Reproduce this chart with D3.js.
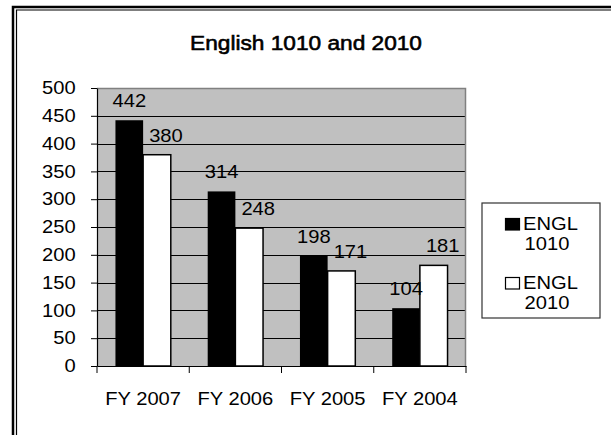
<!DOCTYPE html>
<html>
<head>
<meta charset="utf-8">
<script src="https://cdn.jsdelivr.net/npm/d3@7"></script>
<style>
  html, body { margin: 0; padding: 0; background: #fff; }
  svg { display: block; }
  text { font-family: Arial, "Liberation Sans", sans-serif; fill: #000; }
</style>
</head>
<body>
<svg id="chart"></svg>
<script>
const categories = ["FY 2007", "FY 2006", "FY 2005", "FY 2004"];
const seriesNames = ["ENGL 1010", "ENGL 2010"];
const engl1010 = [442, 314, 198, 104];
const engl2010 = [380, 248, 171, 181];
const yTicks = [0, 50, 100, 150, 200, 250, 300, 350, 400, 450, 500];

const W = 611, H = 435;
const stretch = 1.12; // the picture's text is a bit wide
const margin = { top: 88, right: 145, bottom: 69, left: 97 };
const width = W - margin.left - margin.right;
const height = H - margin.top - margin.bottom;

const svg = d3.select("#chart").attr("width", W).attr("height", H);

// outer double frame
svg.append("path")
  .attr("d", `M13,${H + 5} V7 H${W + 5}`)
  .attr("fill", "none").attr("stroke", "#000").attr("stroke-width", 2.5);
svg.append("path")
  .attr("d", `M16.5,${H + 5} V10 H${W + 5}`)
  .attr("fill", "none").attr("stroke", "#000").attr("stroke-width", 1.2);

svg.append("g")
  .attr("transform", `translate(306,50) scale(1.08,1)`)
  .append("text")
  .attr("text-anchor", "middle")
  .style("font-size", "21px")
  .attr("stroke", "#000").attr("stroke-width", 0.6)
  .text("English 1010 and 2010");

const g = svg.append("g")
  .attr("transform", `translate(${margin.left},${margin.top})`);

const x0 = d3.scaleBand().domain(categories).range([0, width]);
const x1 = d3.scaleBand().domain(seriesNames)
  .range([x0.bandwidth() * 0.2, x0.bandwidth() * 0.8]);
const y = d3.scaleLinear().domain([0, 500]).range([height, 0]);

g.append("rect")
  .attr("width", width).attr("height", height)
  .attr("fill", "#c0c0c0");

g.selectAll(".grid")
  .data(yTicks.slice(1, -1))
  .enter().append("line")
  .attr("x1", 0).attr("x2", width)
  .attr("y1", (d) => Math.round(y(d)) + 0.5)
  .attr("y2", (d) => Math.round(y(d)) + 0.5)
  .attr("stroke", "#000").attr("stroke-width", 1);

g.append("path")
  .attr("d", `M0,0.5 H${width - 0.5} V${height}`)
  .attr("fill", "none").attr("stroke", "#808080").attr("stroke-width", 1.5);

const rows = categories.map((c, i) => ({
  cat: c,
  values: [
    { key: seriesNames[0], value: engl1010[i] },
    { key: seriesNames[1], value: engl2010[i] }
  ]
}));

const groups = g.selectAll(".grp")
  .data(rows).enter().append("g")
  .attr("transform", (d) => `translate(${x0(d.cat)},0)`);

groups.selectAll("rect")
  .data((d) => d.values).enter().append("rect")
  .attr("x", (d) => x1(d.key))
  .attr("y", (d) => y(d.value))
  .attr("width", x1.bandwidth())
  .attr("height", (d) => y(0) - y(d.value))
  .attr("fill", (d) => (d.key === seriesNames[0] ? "#000" : "#fff"))
  .attr("stroke", "#000")
  .attr("stroke-width", (d) => (d.key === seriesNames[0] ? 0 : 1.5));

// value labels, the second series sits a little to the right as in Excel
groups.selectAll(".lbl")
  .data((d) => d.values).enter().append("g")
  .attr("transform", (d) => {
    const shift = d.key === seriesNames[0] ? 0 : 9;
    return `translate(${x1(d.key) + x1.bandwidth() / 2 + shift},${y(d.value) - 13}) scale(${stretch},1)`;
  })
  .append("text")
  .attr("text-anchor", "middle")
  .style("font-size", "18px")
  .text((d) => d.value);

// y axis
const yAxis = g.append("g")
  .call(d3.axisLeft(y).tickValues(yTicks).tickSize(6).tickSizeOuter(0).tickPadding(13));
yAxis.select(".domain").attr("stroke", "#000").attr("stroke-width", 1.2);
yAxis.selectAll("text")
  .style("font-size", "18px")
  .attr("transform", `scale(${stretch},1)`);

// x axis with ticks between categories
const xAxis = g.append("g")
  .attr("transform", `translate(0,${height})`)
  .call(d3.axisBottom(x0).tickSize(0).tickSizeOuter(0).tickPadding(26));
xAxis.select(".domain").attr("stroke", "#000").attr("stroke-width", 1.2);
xAxis.selectAll("text")
  .style("font-size", "18px")
  .attr("transform", `scale(${stretch},1)`);

const bounds = categories.map((c) => x0(c)).concat([width]);
xAxis.selectAll(".bound")
  .data(bounds).enter().append("line")
  .attr("x1", (d) => d).attr("x2", (d) => d)
  .attr("y1", 0).attr("y2", 7)
  .attr("stroke", "#000").attr("stroke-width", 1);

// legend
const legend = svg.append("g").attr("transform", "translate(482,203)");
legend.append("rect")
  .attr("width", 118).attr("height", 115)
  .attr("fill", "#fff").attr("stroke", "#333").attr("stroke-width", 1.2);

const items = legend.selectAll(".item")
  .data(seriesNames).enter().append("g")
  .attr("transform", (d, i) => `translate(0,${27 + i * 59})`);

items.append("rect")
  .attr("x", 23.5).attr("y", -11.5)
  .attr("width", 14).attr("height", 11.5)
  .attr("fill", (d, i) => (i === 0 ? "#000" : "#fff"))
  .attr("stroke", "#000").attr("stroke-width", 1.2);

items.append("g")
  .attr("transform", `translate(41,0) scale(${stretch},1)`)
  .append("text")
  .style("font-size", "18px")
  .text((d) => d.split(" ")[0]);

items.append("g")
  .attr("transform", `translate(65,20) scale(${stretch},1)`)
  .append("text")
  .attr("text-anchor", "middle")
  .style("font-size", "18px")
  .text((d) => d.split(" ")[1]);
</script>
</body>
</html>
